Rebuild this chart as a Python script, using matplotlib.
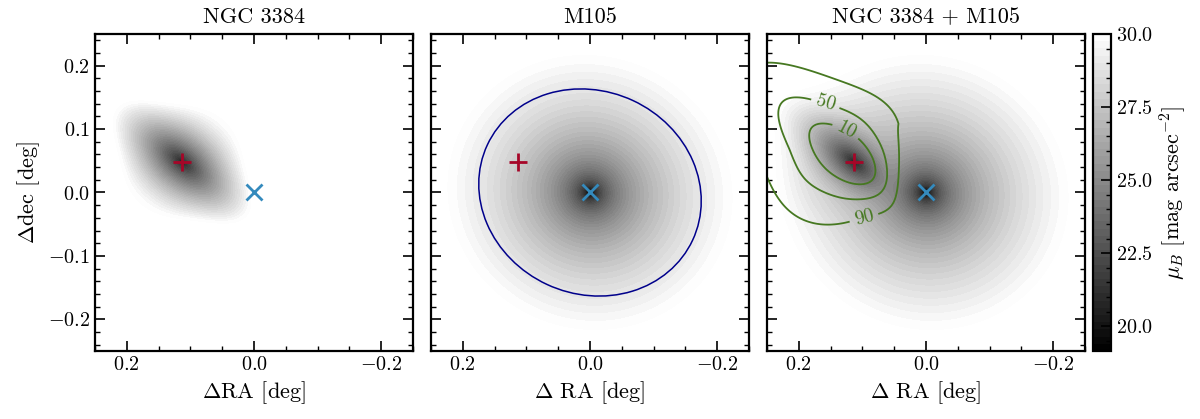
import numpy as np
import matplotlib
matplotlib.use("Agg")
import matplotlib.pyplot as plt
from matplotlib.patches import Ellipse
from matplotlib.ticker import MultipleLocator, AutoMinorLocator

plt.rcParams['font.family'] = 'serif'
plt.rcParams['font.serif'] = ['cmr10']
plt.rcParams['mathtext.fontset'] = 'cm'
plt.rcParams['axes.formatter.use_mathtext'] = True
plt.rcParams['axes.unicode_minus'] = True

# ---- data / model parameters ----
titles = ["NGC 3384", "M105", "NGC 3384 + M105"]
xlabels = [r"$\Delta$RA [deg]", r"$\Delta$ RA [deg]", r"$\Delta$ RA [deg]"]
ylabel = r"$\Delta$dec [deg]"
cbar_label = r"$\mu_B$ [mag arcsec$^{-2}$]"

ngc3384_pos = [0.113, 0.048]        # (dRA, ddec) deg
m105_pos = [0.0, 0.0]

# NGC 3384: inner elliptical, outer boxy (parallelogram-like) isophotes
ngc_n1 = [0.12, 0.99]               # normal of top/bottom edges (display coords)
ngc_n2 = [0.97, 0.23]               # normal of side edges
ngc_half = [0.089, 0.094]           # half widths at mu = 30
ngc_box_c = 3.5
ngc_inner_axes = [0.13, 0.07]       # inner ellipse semi-axes at rho = 1
ngc_inner_pa = -40.0                # display angle of inner major axis, deg
ngc_alpha = 0.8
ngc_mu0 = 20.4
ngc_mu_edge = 30.0
ngc_outer_slope = 6.0

# M105: de Vaucouleurs profile
m105_re = 0.0154
m105_mue = 22.04
m105_q = 0.95
m105_pa = 25.0                      # deg, data coords
m105_core = 0.0028

# blue ellipse in M105 panel
ell_center = [0.0, 0.0]
ell_axes = [0.178, 0.160]           # semi-axes
ell_angle = 25.0

mu_min, mu_max, n_levels = 19.15, 30.0, 45
frac_levels = [10, 50, 90]
frac_label_pos = [(0.13, 0.09), (0.16, 0.134), (0.098, -0.038)]

xlim = [0.25, -0.25]
ylim = [-0.25, 0.25]

# ---- build model images ----
xg = np.linspace(0.25, -0.25, 500)
yg = np.linspace(-0.25, 0.25, 500)
X, Y = np.meshgrid(xg, yg)

u = -(X - ngc3384_pos[0])
v = Y - ngc3384_pos[1]
p1 = np.abs((ngc_n1[0] * u + ngc_n1[1] * v) / ngc_half[0])
p2 = np.abs((ngc_n2[0] * u + ngc_n2[1] * v) / ngc_half[1])
rho_box = (p1 ** ngc_box_c + p2 ** ngc_box_c) ** (1.0 / ngc_box_c)
phi = np.deg2rad(ngc_inner_pa)
maj = u * np.cos(phi) + v * np.sin(phi)
mnr = -u * np.sin(phi) + v * np.cos(phi)
rho_ell = np.sqrt((maj / ngc_inner_axes[0]) ** 2 + (mnr / ngc_inner_axes[1]) ** 2)
s = np.clip(rho_box, 0, 1) ** 2
rho = s * rho_box + (1 - s) * rho_ell
mu_ngc = np.where(rho <= 1, ngc_mu0 + (ngc_mu_edge - ngc_mu0) * np.clip(rho, 0, 1) ** ngc_alpha,
                  ngc_mu_edge + ngc_outer_slope * (rho - 1))

th = np.deg2rad(m105_pa)
dx = X - m105_pos[0]
dy = Y - m105_pos[1]
a_ = dx * np.cos(th) + dy * np.sin(th)
b_ = -dx * np.sin(th) + dy * np.cos(th)
r = np.sqrt(a_ ** 2 + (b_ / m105_q) ** 2 + m105_core ** 2)
mu_m105 = m105_mue + 8.327 * ((r / m105_re) ** 0.25 - 1)

f_ngc = 10 ** (-0.4 * mu_ngc)
f_m105 = 10 ** (-0.4 * mu_m105)
mu_tot = -2.5 * np.log10(f_ngc + f_m105)
frac = 100 * f_m105 / (f_ngc + f_m105)

images = [mu_ngc, mu_m105, mu_tot]
levels = np.linspace(mu_min, mu_max, n_levels)

# ---- figure ----
fig = plt.figure(figsize=(12, 4.19), dpi=100)
W, H = 1200.0, 419.0
lefts = [95, 431, 767]
bottom_px, top_px = 351, 34
axes = []
for L in lefts:
    ax = fig.add_axes([L / W, (H - bottom_px) / H, 318 / W, (bottom_px - top_px) / H])
    axes.append(ax)
cax = fig.add_axes([1093 / W, (H - bottom_px) / H, 18 / W, (bottom_px - top_px) / H])

fmt = matplotlib.ticker.FuncFormatter(
    lambda val, pos: r"$%.1f$" % val if abs(val) > 1e-9 else r"$0.0$")

for i, ax in enumerate(axes):
    cf = ax.contourf(X, Y, np.clip(images[i], mu_min, None), levels=levels,
                     cmap='gray', vmin=mu_min, vmax=mu_max)
    ax.plot(ngc3384_pos[0], ngc3384_pos[1], marker='+', color='#A60628',
            ms=13, mew=2.0, ls='none', zorder=5)
    ax.plot(m105_pos[0], m105_pos[1], marker='x', color='#348ABD',
            ms=12, mew=2.0, ls='none', zorder=5)
    ax.set_xlim(xlim)
    ax.set_ylim(ylim)
    ax.xaxis.set_major_locator(MultipleLocator(0.2))
    ax.xaxis.set_minor_locator(AutoMinorLocator())
    ax.yaxis.set_major_locator(MultipleLocator(0.1))
    ax.yaxis.set_minor_locator(AutoMinorLocator())
    ax.tick_params(which='both', direction='in', top=True, right=True,
                   labelsize=14.5)
    ax.tick_params(which='major', length=7, width=1.2)
    ax.tick_params(which='minor', length=3.5, width=1.0)
    for sp in ax.spines.values():
        sp.set_linewidth(1.6)
    ax.set_title(titles[i], fontsize=16, pad=8)
    ax.set_xlabel(xlabels[i], fontsize=16)
    ax.xaxis.set_major_formatter(fmt)
    if i == 0:
        ax.set_ylabel(ylabel, fontsize=16)
        ax.yaxis.set_major_formatter(fmt)
    else:
        ax.tick_params(labelleft=False)

axes[1].add_patch(Ellipse(ell_center, 2 * ell_axes[0], 2 * ell_axes[1],
                          angle=ell_angle, fill=False, color='#00008B', lw=1.1,
                          zorder=4))

cs = axes[2].contour(X, Y, frac, levels=frac_levels, colors='#467821',
                     linewidths=1.3)
axes[2].clabel(cs, fmt='%d', fontsize=14, inline=True,
               manual=frac_label_pos)

cb = fig.colorbar(cf, cax=cax)
cb.set_ticks([20.0, 22.5, 25.0, 27.5, 30.0])
cb.ax.yaxis.set_minor_locator(AutoMinorLocator())
cb.ax.tick_params(which='both', direction='in', right=True, left=False,
                  labelsize=14.5)
cb.ax.tick_params(which='major', length=7, width=1.2)
cb.ax.tick_params(which='minor', length=3.5, width=1.0)
cb.outline.set_linewidth(1.6)
cb.set_label(cbar_label, fontsize=16)

fig.savefig("out.png", dpi=100)
